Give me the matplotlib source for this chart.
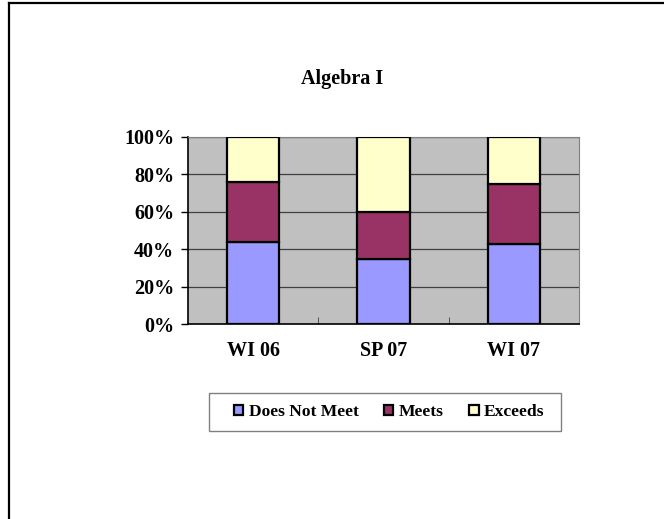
import matplotlib
matplotlib.use("Agg")
import matplotlib.pyplot as plt
from matplotlib.lines import Line2D
from matplotlib.patches import Rectangle
import numpy as np

categories = ["WI 06", "SP 07", "WI 07"]
does_not_meet = [44, 35, 43]
meets = [32, 25, 32]
exceeds = [24, 40, 25]
series_names = ["Does Not Meet", "Meets", "Exceeds"]
colors = ["#9999FF", "#993366", "#FFFFCC"]
yticks = [0, 20, 40, 60, 80, 100]

plt.rcParams['font.family'] = ['Liberation Serif', 'DejaVu Serif']
plt.rcParams['font.weight'] = 'bold'

fig = plt.figure(figsize=(6.64, 5.19), dpi=100)
ax = fig.add_axes([188/664, 1-324/519, 391/664, 187/519])
ax.set_facecolor("#C0C0C0")

x = np.arange(len(categories))
data = [does_not_meet, meets, exceeds]
totals = np.sum(data, axis=0)
bottom = np.zeros(len(categories))
for vals, name, c in zip(data, series_names, colors):
    pct = np.array(vals) / totals * 100
    ax.bar(x, pct, width=0.4, bottom=bottom, color=c, edgecolor="black",
           linewidth=1.6, label=name, zorder=3)
    bottom += pct

ax.set_xlim(-0.5, 2.5)
ax.set_ylim(0, 100)
ax.set_yticks(yticks)
ax.set_yticklabels([f"{v}%" for v in yticks], fontsize=14.5, fontweight='bold')
ax.set_xticks(x)
ax.set_xticklabels(categories, fontsize=14.5, fontweight='bold')
ax.tick_params(axis='x', length=0, pad=12)
ax.tick_params(axis='y', length=5, direction='out', pad=5, width=1)
ax.set_xticks([0.5, 1.5, 2.5], minor=True)
ax.tick_params(axis='x', which='minor', length=5, direction='in', color='#404040')
ax.yaxis.grid(True, color="#404040", linewidth=0.9, zorder=0)
ax.set_axisbelow(True)
for s in ["top", "right"]:
    ax.spines[s].set_color("#808080")
for s in ["left", "bottom"]:
    ax.spines[s].set_color("black")
    ax.spines[s].set_linewidth(1.2)

fig.text(342/664, 1-79/519, "Algebra I", ha="center", va="center",
         fontsize=14.5, fontweight='bold')

# legend box
fig.add_artist(Rectangle((209/664, 1-431/519), 352/664, 38/519, transform=fig.transFigure,
                         facecolor="white", edgecolor="#808080", linewidth=1.0, zorder=-1))
leg = ax.legend(loc="center", bbox_to_anchor=(389/664, 1-412/519), bbox_transform=fig.transFigure,
                ncol=3, frameon=False,
                handlelength=0.55, handleheight=0.55, handletextpad=0.3,
                columnspacing=1.45, borderpad=0.3, prop={'weight': 'bold', 'size': 12.6})

# outer frame lines (left and top)
fig.add_artist(Line2D([9/664, 9/664], [0, 1-3/519], transform=fig.transFigure, color="black", linewidth=1.6))
fig.add_artist(Line2D([9/664, 1], [1-3/519, 1-3/519], transform=fig.transFigure, color="black", linewidth=1.6))

fig.savefig("out.png", dpi=100, facecolor="white")
